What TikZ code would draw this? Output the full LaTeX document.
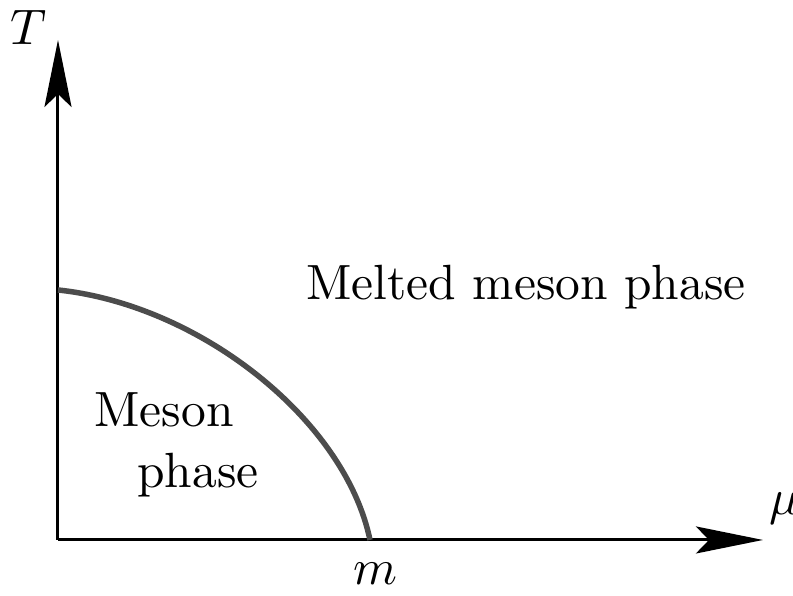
\documentclass[tikz,border=0pt]{standalone}
\usetikzlibrary{arrows.meta}
\begin{document}
\begin{tikzpicture}[x=0.2pt, y=0.2pt,
    every node/.style={font=\fontsize{9.9}{12}\selectfont, inner sep=0pt, anchor=base},
    axis/.style={line width=0.6pt, -{Stealth[length=13.4pt, width=5.4pt, inset=2.6pt]}},
    border/.style={line width=1.1pt, black!70}]
  \useasboundingbox (0,0) rectangle (793,596);
  \coordinate (O) at (58,56);
  \coordinate (Ttip) at (58,556);
  \coordinate (mutip) at (763,56);
  \coordinate (top) at (58,306);
  \coordinate (end) at (370,56);
  \draw[axis] (O) -- (Ttip);
  \draw[axis] (O) -- (mutip);
  \draw[border] (top) .. controls (200,291) and (345,176) .. (end);
  \node (T) at (29,551) {$T$};
  \node (mu) at (785,81) {$\mu$};
  \node (m) at (375,11) {$m$};
  \node (melted) at (526,296) {Melted meson phase};
  \node (meson) at (164,169) {Meson};
  \node (phase) at (198,108) {phase};
\end{tikzpicture}
\end{document}
